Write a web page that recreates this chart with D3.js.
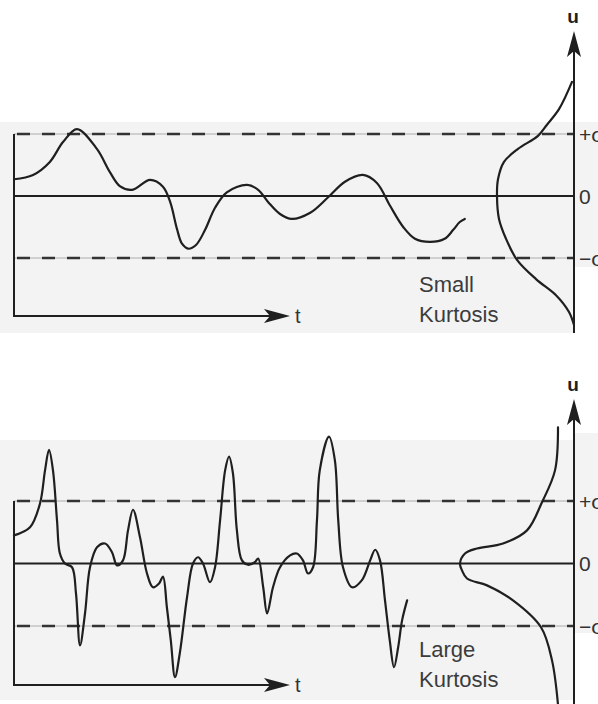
<!DOCTYPE html>
<html>
<head>
<meta charset="utf-8">
<script src="https://cdn.jsdelivr.net/npm/d3@7"></script>
<style>
  html, body { margin: 0; padding: 0; background: #ffffff; }
  svg { display: block; }
  text { font-family: "Liberation Sans", Arial, sans-serif; }
</style>
</head>
<body>
<svg id="chart" width="598" height="704"></svg>
<script>
// ---- signal with small kurtosis: time t and fluctuation u (in units of sigma)
const smallT = [0, 3.4, 6.4, 8.75, 11.25, 14.8, 17.1, 18.9, 21.1, 24.3, 26.6, 27.9, 29.1, 30.0, 31.1,
  32.5, 34.1, 35.9, 38.0, 41.6, 43.6, 45.4, 47.5, 49.6, 52.9, 56.1, 59.1, 62.3, 64.8, 67.1, 69.5,
  71.6, 74.3, 76.9, 78.4, 79.6, 80.5];
const smallU = [0.27, 0.34, 0.55, 0.87, 1.08, 0.76, 0.39, 0.16, 0.10, 0.26, 0.15, -0.10, -0.53, -0.77, -0.85,
  -0.79, -0.55, -0.19, 0.06, 0.18, 0.10, -0.10, -0.29, -0.37, -0.27, -0.02, 0.23, 0.34, 0.21, -0.15, -0.50,
  -0.69, -0.74, -0.69, -0.55, -0.42, -0.37];

// ---- signal with large kurtosis
const largeT = [0, 2.86, 4.64, 5.54, 6.25, 6.96, 7.68, 8.2, 9.1, 10.36, 11.07, 11.79, 12.68, 13.57, 14.82,
  16.25, 17.5, 18.4, 19.46, 20.36, 21.25, 22.5, 23.75, 24.8, 25.9, 26.6, 27.3, 28.0, 28.75, 29.6,
  30.9, 31.96, 32.86, 33.75, 35.0, 35.9, 36.8, 37.7, 38.4, 39.1, 39.8, 40.7, 41.8, 43.0, 43.6,
  44.5, 45.2, 46.25, 47.5, 49.3, 50.5, 51.6, 52.5, 53.4, 54.1, 54.6, 56.25, 57.3, 57.9, 58.75,
  60.36, 62.1, 63.6, 64.5, 65.36, 66.25, 67.1, 67.86, 68.6, 69.3, 70.2];
const largeU = [0.45, 0.58, 0.96, 1.49, 1.82, 1.49, 0.69, 0.16, 0, -0.06, -0.48, -1.31, -0.80, -0.06, 0.26,
  0.32, 0.18, -0.03, 0.05, 0.53, 0.86, 0.42, -0.16, -0.38, -0.32, -0.21, -0.70, -1.23, -1.82, -1.44,
  -0.54, 0, 0.10, 0, -0.30, -0.06, 0.69, 1.49, 1.71, 1.44, 0.53, 0.05, -0.02, 0.02, 0.08,
  -0.38, -0.80, -0.38, -0.06, 0.13, 0.16, 0.05, -0.16, -0.06, 0.69, 1.49, 2.03, 1.65, 0.69, -0.06,
  -0.38, -0.27, 0.05, 0.22, 0.05, -0.59, -1.23, -1.66, -1.34, -0.91, -0.59];

// ---- probability density of u, drawn leftwards from the u axis
const smallPdfU = [1.84, 1.40, 1.15, 0.97, 0.76, 0.55, 0.27, 0, -0.37, -0.69, -1.03, -1.34, -1.60, -1.87, -2.08];
const smallPdfP = [0.02, 0.15, 0.27, 0.36, 0.56, 0.70, 0.76, 0.77, 0.75, 0.68, 0.57, 0.38, 0.18, 0.05, 0.0];
const largePdfU = [2.18, 1.49, 0.98, 0.53, 0.32, 0.24, 0.16, 0, -0.11, -0.24, -0.35, -0.59, -1.02, -1.55, -2.26];
const largePdfP = [0.16, 0.19, 0.32, 0.47, 0.71, 0.97, 1.09, 1.14, 1.12, 1.07, 0.87, 0.61, 0.33, 0.22, 0.16];

// ---- u-axis tick labels and captions
const tickValues = [1, 0, -1];
const tickLabels = ["+σ", "0", "−σ"];
const smallCaption = ["Small", "Kurtosis"];
const largeCaption = ["Large", "Kurtosis"];

const svg = d3.select("#chart");
const ink = "#1f1f1f";
const grey = "#f3f3f3";

const xLeft = 14, xAxis = 574;
const x = d3.scaleLinear().domain([0, 100]).range([xLeft, xAxis]);
const pScale = d3.scaleLinear().domain([0, 1]).range([xAxis, xAxis - 100]);
const smooth = d3.curveCatmullRom.alpha(0.5);

const panels = [
  { t: smallT, u: smallU, pu: smallPdfU, pp: smallPdfP, caption: smallCaption,
    y: d3.scaleLinear().domain([-1, 1]).range([258, 134]),
    tY: 316, axisTop: 31, axisBottom: 333, uLabelY: 23, capY: 292,
    bg: [[0, 122, xAxis, 333], [xAxis, 122, 598, 267]] },
  { t: largeT, u: largeU, pu: largePdfU, pp: largePdfP, caption: largeCaption,
    y: d3.scaleLinear().domain([-1, 1]).range([626, 501]),
    tY: 685, axisTop: 399, axisBottom: 704, uLabelY: 391, capY: 657,
    bg: [[0, 440, xAxis, 700], [xAxis, 433, 598, 633]] }
];

panels.forEach(P => {
  const g = svg.append("g");
  const y = P.y;

  // paper tone behind the plot
  P.bg.forEach(b => g.append("rect")
    .attr("x", b[0]).attr("y", b[1]).attr("width", b[2] - b[0]).attr("height", b[3] - b[1])
    .attr("fill", grey));

  // ±sigma reference lines
  [1, -1].forEach(v => {
    g.append("line").attr("x1", xLeft).attr("x2", xAxis).attr("y1", y(v)).attr("y2", y(v))
      .attr("stroke", "#9a9a9a").attr("stroke-width", 0.8);
    g.append("line").attr("x1", xLeft + 3).attr("x2", xAxis).attr("y1", y(v)).attr("y2", y(v))
      .attr("stroke", "#333").attr("stroke-width", 2.6).attr("stroke-dasharray", "13,12");
  });

  // mean line
  g.append("line").attr("x1", xLeft).attr("x2", xAxis).attr("y1", y(0)).attr("y2", y(0))
    .attr("stroke", ink).attr("stroke-width", 2);

  // left frame edge and time axis
  g.append("line").attr("x1", xLeft).attr("x2", xLeft).attr("y1", y(1)).attr("y2", P.tY + 1)
    .attr("stroke", ink).attr("stroke-width", 2);
  const tipX = 290;
  g.append("line").attr("x1", xLeft).attr("x2", tipX - 10).attr("y1", P.tY).attr("y2", P.tY)
    .attr("stroke", ink).attr("stroke-width", 2);
  g.append("path")
    .attr("d", `M${tipX},${P.tY} L${tipX - 26},${P.tY - 7} L${tipX - 20},${P.tY} L${tipX - 26},${P.tY + 7} Z`)
    .attr("fill", ink);
  g.append("text").attr("x", tipX + 5).attr("y", P.tY + 7)
    .attr("font-size", 20).attr("fill", "#333").text("t");

  // u axis with arrow
  g.append("line").attr("x1", xAxis).attr("x2", xAxis).attr("y1", P.axisTop + 12).attr("y2", P.axisBottom)
    .attr("stroke", ink).attr("stroke-width", 2);
  const at = P.axisTop;
  g.append("path")
    .attr("d", `M${xAxis},${at} L${xAxis - 7},${at + 26} L${xAxis},${at + 20} L${xAxis + 7},${at + 26} Z`)
    .attr("fill", ink);
  g.append("text").attr("x", xAxis - 1).attr("y", P.uLabelY)
    .attr("text-anchor", "middle").attr("font-size", 19).attr("font-weight", "bold")
    .attr("fill", ink).text("u");

  // tick labels on the u axis
  tickValues.forEach((v, i) => {
    g.append("text").attr("x", xAxis + 5).attr("y", y(v))
      .attr("dy", "0.36em").attr("font-size", 21).attr("fill", "#333")
      .text(tickLabels[i]);
  });

  // time signal
  const sig = P.t.map((t, i) => [t, P.u[i]]);
  g.append("path").datum(sig)
    .attr("fill", "none").attr("stroke", ink).attr("stroke-width", 2.2)
    .attr("stroke-linejoin", "round").attr("stroke-linecap", "round")
    .attr("d", d3.line().x(d => x(d[0])).y(d => y(d[1])).curve(smooth));

  // probability density
  const pdf = P.pu.map((u, i) => [P.pp[i], u]);
  g.append("path").datum(pdf)
    .attr("fill", "none").attr("stroke", ink).attr("stroke-width", 2.2)
    .attr("stroke-linecap", "round")
    .attr("d", d3.line().x(d => pScale(d[0])).y(d => y(d[1])).curve(smooth));

  // caption
  P.caption.forEach((s, i) => {
    g.append("text").attr("x", 419).attr("y", P.capY + i * 30)
      .attr("font-size", 22).attr("fill", "#3c3c3c").text(s);
  });
});
</script>
</body>
</html>
